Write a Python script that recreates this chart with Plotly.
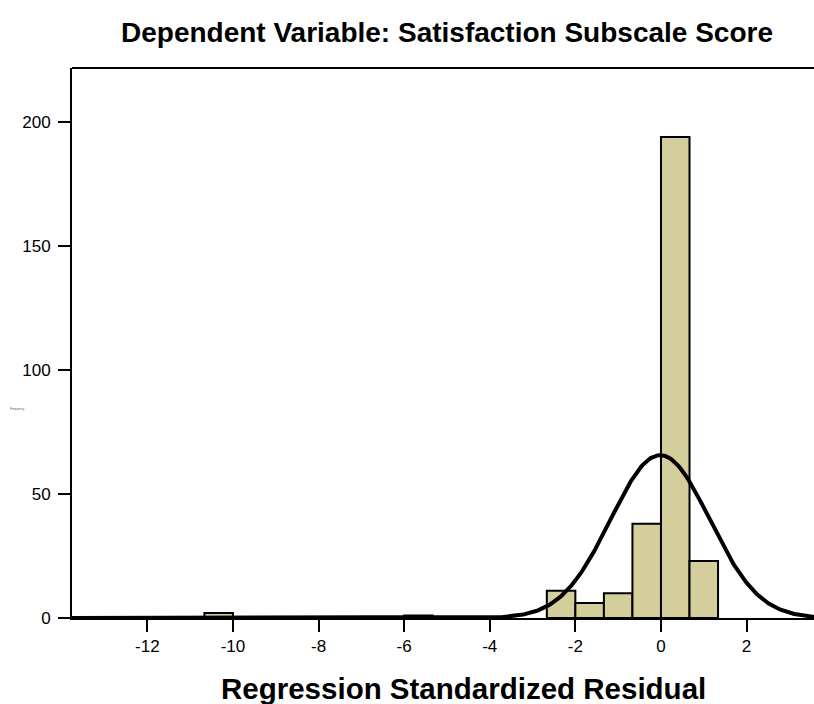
import numpy as np
import plotly.graph_objects as go

# Histogram bins (left edges, width 2/3) and counts
bin_left = [-10.6667, -6.0, -2.6667, -2.0, -1.3333, -0.6667, 0.0, 0.6667]
counts = [2, 1, 11, 6, 10, 38, 194, 23]
bin_width = 2.0 / 3.0

# Normal curve parameters
curve_mean = -0.02
curve_sd = 1.154
n_total = sum(counts)

x_ticks = [-12, -10, -8, -6, -4, -2, 0, 2]
y_ticks = [0, 50, 100, 150, 200]

centers = [b + bin_width / 2 for b in bin_left]
xc = np.linspace(-13.8, 3.8, 700)
yc = n_total * bin_width / (curve_sd * np.sqrt(2 * np.pi)) * np.exp(-0.5 * ((xc - curve_mean) / curve_sd) ** 2)

FONT = "Liberation Sans, Arial, sans-serif"

W, H = 814, 704
L, T, B = 72, 68, 86
PW, PH = W - L, H - T - B

fig = go.Figure()
fig.add_trace(go.Bar(
    x=centers, y=counts, width=bin_width,
    marker=dict(color="#d3ce9b", line=dict(color="black", width=2)),
    hoverinfo="skip",
))
fig.add_trace(go.Scatter(
    x=xc, y=yc, mode="lines",
    line=dict(color="black", width=4),
    hoverinfo="skip",
))

fig.update_layout(
    width=W, height=H,
    margin=dict(l=L, r=0, t=T, b=B),
    paper_bgcolor="white", plot_bgcolor="white",
    showlegend=False,
    font=dict(family=FONT, color="black", size=17),
    title=dict(
        text="<b>Dependent Variable: Satisfaction Subscale Score</b>",
        x=447 / W, xanchor="center", y=1 - 32 / H, yanchor="middle",
        font=dict(family=FONT, size=28, color="black"),
    ),
    xaxis=dict(
        range=[-13.76, 3.575], tickvals=x_ticks,
        ticktext=[str(v) for v in x_ticks],
        showgrid=False, zeroline=False,
        showline=True, linecolor="black", linewidth=2,
        ticks="outside", ticklen=12, tickwidth=2, tickcolor="black",
        tickfont=dict(size=17),
    ),
    yaxis=dict(
        range=[0, 221.8], tickvals=y_ticks,
        showgrid=False, zeroline=False,
        showline=True, linecolor="black", linewidth=2,
        ticks="outside", ticklen=12, tickwidth=2, tickcolor="black",
        tickfont=dict(size=17), ticklabelstandoff=4,
    ),
    shapes=[dict(type="line", xref="paper", yref="paper", x0=0, x1=1, y0=1, y1=1,
                 line=dict(color="black", width=2))],
    annotations=[
        dict(text="<b>Regression Standardized Residual</b>", xref="paper", yref="paper",
             x=(463 - L) / PW, y=(T + PH - 688) / PH, xanchor="center", yanchor="middle",
             showarrow=False, font=dict(size=29.5, color="black")),
        dict(text="Frequency", xref="paper", yref="paper",
             x=(18 - L) / PW, y=(T + PH - 409) / PH, xanchor="center", yanchor="middle",
             showarrow=False, font=dict(size=3, color="#555555")),
    ],
)

fig.write_html("out.html",
               config={"displayModeBar": False},
               post_script="document.body.style.margin='0';document.body.style.overflow='hidden';")
